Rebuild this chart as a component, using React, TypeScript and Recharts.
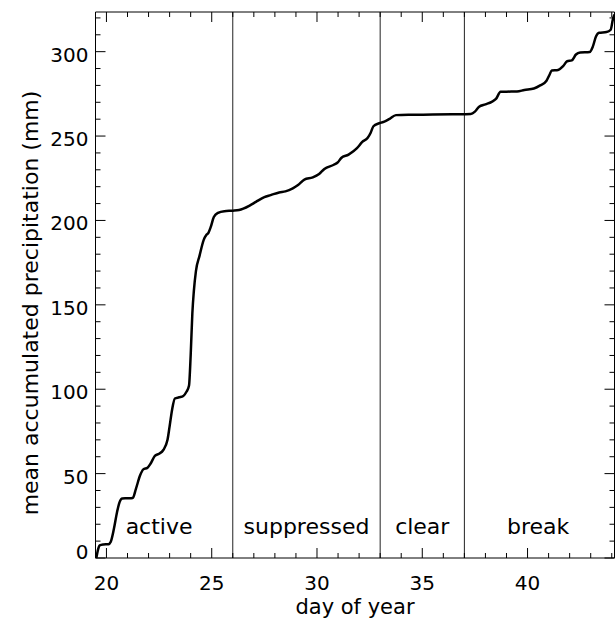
import { LineChart, Line, XAxis, YAxis, ReferenceLine, ReferenceArea } from "recharts"

// mean accumulated precipitation through the MJO phases
const days = [
  19.52, 19.6, 19.68, 19.85, 20.1, 20.2, 20.35, 20.5, 20.62, 20.75, 21.0, 21.25, 21.4, 21.6, 21.75,
  21.95, 22.1, 22.3, 22.5, 22.7, 22.9, 23.0, 23.12, 23.25, 23.45, 23.65, 23.8, 23.92, 24.0, 24.08,
  24.15, 24.25, 24.42, 24.62, 24.75, 24.85, 24.95, 25.1, 25.3, 25.6, 26.0, 26.3, 26.5, 26.8, 27.1,
  27.5, 27.8, 28.2, 28.5, 28.85, 29.1, 29.4, 29.8, 30.1, 30.35, 30.8, 31.0, 31.15, 31.5, 31.9,
  32.15, 32.4, 32.55, 32.68, 32.95, 33.2, 33.45, 33.75, 34.5, 35.5, 36.5, 37.3, 37.5, 37.7, 38.0,
  38.3, 38.5, 38.72, 39.0, 39.5, 39.85, 40.3, 40.6, 40.9, 41.05, 41.15, 41.45, 41.7, 41.88, 42.1,
  42.3, 42.5, 42.95, 43.1, 43.25, 43.4, 43.75, 43.95, 44.05, 44.13,
]
const precip = [
  0, 5, 7.5, 8, 8.2, 9.5, 17, 27, 33, 35.3, 35.4, 35.6, 41, 49, 52.5,
  53.5, 56, 60.5, 61.8, 64, 70, 78, 88, 94.5, 95.2, 96, 98.5, 102, 120, 145,
  158, 170, 179, 188.5, 191.5, 192.8, 196, 202, 204.5, 205.5, 205.8, 206.2, 207, 208.8, 211,
  213.8, 215, 216.6, 217.2, 219, 221, 224.2, 225.5, 227.5, 230.5, 233, 234.5, 237, 239, 242.8,
  246.5, 248.8, 252, 255.8, 257.6, 258.5, 260.2, 262.4, 262.6, 262.7, 262.9, 263.1, 264.5, 267.4, 268.8,
  270.3, 272, 276.2, 276.3, 276.4, 277.3, 278.2, 280, 282.8, 286.5, 288.9, 289.2, 291.6, 294.3, 294.8,
  298.3, 299.5, 299.8, 303, 309, 311.2, 311.6, 313, 319, 322,
]

const phaseNames = ["active", "suppressed", "clear", "break"]
const phaseEdges = [19, 26, 33, 37, 44]
const phaseLines = [26, 33, 37]

const xMajor = [20, 25, 30, 35, 40]
const yMajor = [0, 50, 100, 150, 200, 250, 300]
const xTicks = Array.from({ length: 25 }, (_, i) => 20 + i)
const yTicks = Array.from({ length: 33 }, (_, i) => i * 10)

const X_DOMAIN = [19.48, 44.13]
const Y_DOMAIN = [0, 323.5]

const data = days.map((d, i) => ({ day: d, precip: precip[i] }))

const W = 616
const H = 625
const LEFT = 95.5
const RIGHT = 1.5
const TOP = 12
const XAXIS_H = 67
const PLOT_W = W - LEFT - RIGHT
const PLOT_H = H - TOP - XAXIS_H

const font = "'DejaVu Sans', sans-serif"

const XTick = ({ x, y, payload }: any) => {
  const major = xMajor.includes(payload.value)
  const len = major ? 10 : 5
  return (
    <g>
      <line x1={x} x2={x} y1={y} y2={y - len} stroke='#000' />
      <line x1={x} x2={x} y1={y - PLOT_H} y2={y - PLOT_H + len} stroke='#000' />
      {major && (
        <text x={x} y={y + 32} textAnchor='middle' fontSize={20} fontFamily={font} fill='#000'>
          {payload.value}
        </text>
      )}
    </g>
  )
}

const YTick = ({ x, y, payload }: any) => {
  const major = yMajor.includes(payload.value)
  const len = major ? 10 : 5
  return (
    <g>
      <line x1={x} x2={x + len} y1={y} y2={y} stroke='#000' />
      <line x1={x + PLOT_W} x2={x + PLOT_W - len} y1={y} y2={y} stroke='#000' />
      {major && (
        <text
          x={x - 7}
          y={payload.value === 0 ? y + 1 : y + 10}
          textAnchor='end'
          fontSize={20}
          fontFamily={font}
          fill='#000'
        >
          {payload.value}
        </text>
      )}
    </g>
  )
}

const App = () => {
  return (
    <div style={{ position: "absolute", left: 0, top: 0, width: W, height: H, background: "#fff" }}>
      <LineChart
        width={W}
        height={H}
        data={data}
        margin={{ top: TOP, right: RIGHT, left: 0, bottom: 0 }}
      >
        <XAxis
          dataKey='day'
          type='number'
          domain={X_DOMAIN}
          allowDataOverflow
          ticks={xTicks}
          interval={0}
          tick={<XTick />}
          tickSize={0}
          tickMargin={0}
          tickLine={false}
          height={XAXIS_H}
          stroke='#000'
          label={{
            content: () => (
              <text x={LEFT + PLOT_W / 2} y={TOP + PLOT_H + 56} textAnchor='middle' fontSize={21} fontFamily={font} fill='#000'>
                day of year
              </text>
            ),
          }}
        />
        <YAxis
          type='number'
          domain={Y_DOMAIN}
          allowDataOverflow
          ticks={yTicks}
          interval={0}
          tick={<YTick />}
          tickSize={0}
          tickMargin={0}
          tickLine={false}
          width={LEFT}
          stroke='#000'
          label={{
            content: () => (
              <text
                transform={`translate(38, ${TOP + PLOT_H / 2 + 18}) rotate(-90)`}
                textAnchor='middle'
                fontSize={22}
                fontFamily={font}
                fill='#000'
              >
                mean accumulated precipitation (mm)
              </text>
            ),
          }}
        />
        <ReferenceLine y={Y_DOMAIN[1]} stroke='#000' ifOverflow='visible' />
        <ReferenceLine x={X_DOMAIN[1]} stroke='#000' ifOverflow='visible' />
        {phaseLines.map((d) => (
          <ReferenceLine key={d} x={d} stroke='#222' strokeWidth={1} />
        ))}
        {phaseNames.map((name, i) => (
          <ReferenceArea
            key={name}
            x1={phaseEdges[i]}
            x2={phaseEdges[i + 1]}
            y1={Y_DOMAIN[0]}
            y2={Y_DOMAIN[1]}
            ifOverflow='visible'
            fill='none'
            stroke='none'
            label={{
              value: name,
              position: "insideBottom",
              offset: 24,
              fontSize: 22,
              fontFamily: font,
              fill: "#000",
            }}
          />
        ))}
        <Line
          type='monotone'
          dataKey='precip'
          stroke='#000'
          strokeWidth={2.5}
          dot={false}
          isAnimationActive={false}
        />
      </LineChart>
    </div>
  )
}

export default App
